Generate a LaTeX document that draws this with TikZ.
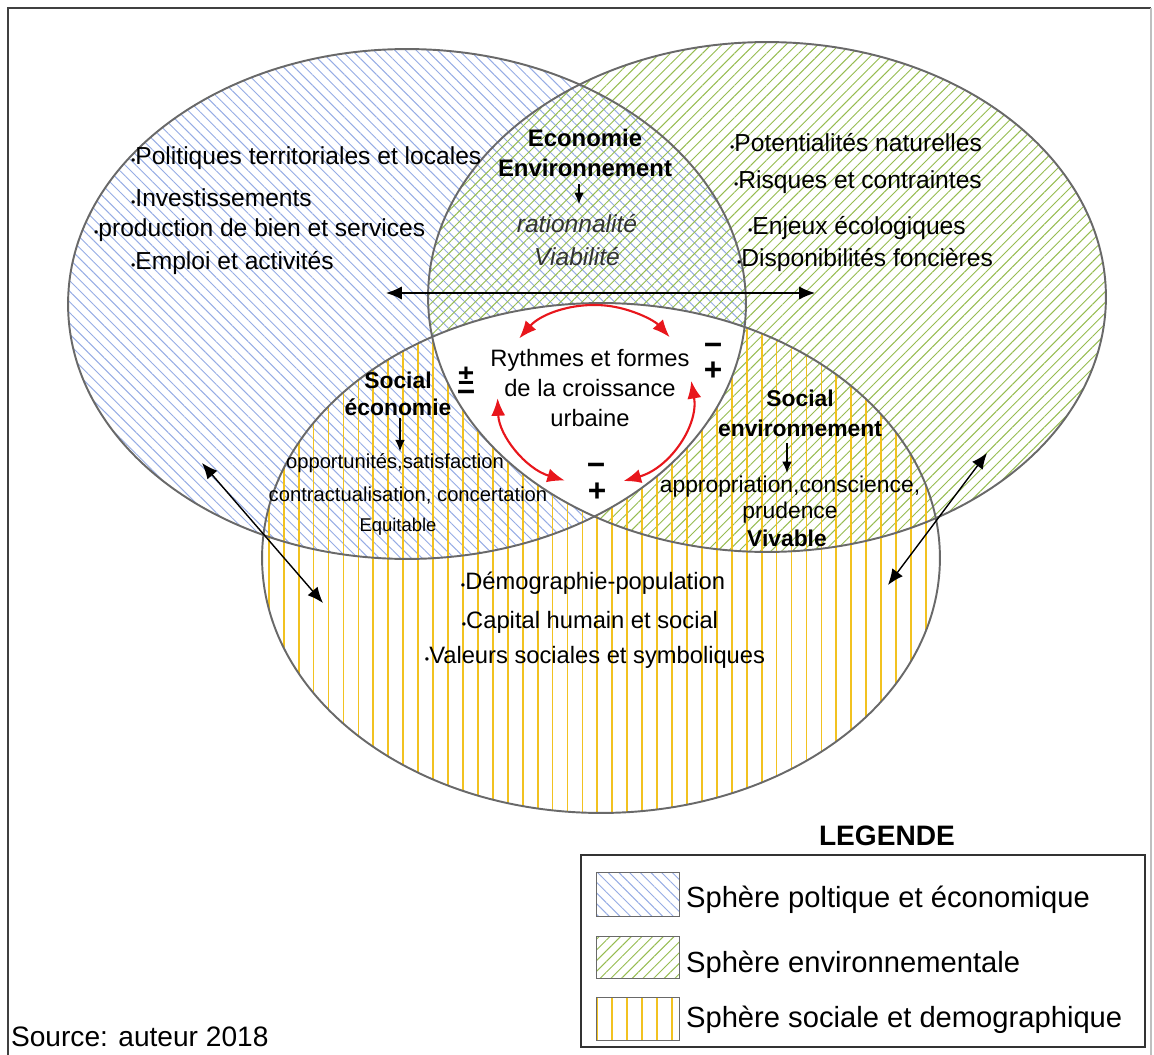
\documentclass[tikz,border=0pt]{standalone}
\usepackage{fontspec}
\setmainfont{Liberation Sans}
\usetikzlibrary{positioning,arrows.meta,calc,patterns.meta}

\definecolor{bluehatch}{RGB}{150,172,228}
\definecolor{greenhatch}{RGB}{150,188,80}
\definecolor{yellowhatch}{RGB}{242,194,32}
\definecolor{rimgray}{RGB}{105,105,105}
\definecolor{cyclered}{RGB}{232,22,28}

\newcommand{\bul}{{\scriptsize\textbullet}}
\newcommand{\sz}[1]{\fontsize{#1}{1.2\dimexpr#1pt\relax}\selectfont}

\begin{document}
\begin{tikzpicture}[
    x=0.02cm, y=-0.02cm,
    txt/.style={font=\sz{14}, inner sep=1pt},
    small/.style={font=\sz{11.5}, inner sep=1pt},
    title/.style={font=\bfseries\fontsize{13.6}{17}\selectfont, align=center, inner sep=1pt},
    quality/.style={font=\itshape\fontsize{14}{19}\selectfont, text=black!80, align=center, inner sep=1pt},
    sign/.style={font=\bfseries\fontsize{18}{12}\selectfont, inner sep=0pt},
    legtext/.style={font=\sz{16.6}, anchor=west, inner sep=1pt},
    bluefill/.style={pattern={Lines[angle=-45,distance=4.3pt,line width=0.55pt]}, pattern color=bluehatch},
    greenfill/.style={pattern={Lines[angle=45,distance=4.3pt,line width=0.55pt]}, pattern color=greenhatch},
    yellowfill/.style={pattern={Lines[angle=90,distance=8.5pt,line width=1pt]}, pattern color=yellowhatch},
    rim/.style={draw=rimgray, line width=1.1pt},
    bigarrow/.style={{Latex[length=9pt,width=7.5pt]}-{Latex[length=9pt,width=7.5pt]}, line width=0.8pt},
    downarrow/.style={-{Latex[length=6.5pt,width=5.5pt]}, line width=0.7pt},
    cycle/.style={{Latex[length=10pt,width=8pt]}-{Latex[length=10pt,width=8pt]}, cyclered, line width=1.2pt}
]
\useasboundingbox (0,0) rectangle (1154,1055);

% Frame
\draw[black!75, line width=1pt] (8,1055) -- (8,8) -- (1151,8);
\draw[black!25, line width=0.8pt] (1151,8) -- (1151,1055);

% Sphere centres
\coordinate (cpol) at (407,304);
\coordinate (cenv) at (767,297);
\coordinate (csoc) at (601,558);

% Hatched spheres
\fill[bluefill] (cpol) ellipse [x radius=6.78cm, y radius=5.1cm];
\fill[greenfill] (cenv) ellipse [x radius=6.78cm, y radius=5.1cm];
\fill[yellowfill] (csoc) ellipse [x radius=6.78cm, y radius=5.1cm];

% Common core stays white
\begin{scope}
  \clip (cpol) ellipse [x radius=6.78cm, y radius=5.1cm];
  \clip (cenv) ellipse [x radius=6.78cm, y radius=5.1cm];
  \fill[white] (csoc) ellipse [x radius=6.78cm, y radius=5.1cm];
\end{scope}

% Outlines
\draw[rim] (cpol) ellipse [x radius=6.78cm, y radius=5.1cm];
\draw[rim] (cenv) ellipse [x radius=6.78cm, y radius=5.1cm];
\draw[rim] (csoc) ellipse [x radius=6.78cm, y radius=5.1cm];

% Political and economic sphere
\node[txt, anchor=west] (pol) at (129,158) {\bul Politiques territoriales et locales};
\node[txt, anchor=west] (inv) at (129,198) {\bul Investissements};
\node[txt, anchor=west] (prod) at (92,230) {\bul production de bien et services};
\node[txt, anchor=west] (emp) at (129,263) {\bul Emploi et activités};

% Environmental sphere
\node[txt, anchor=west] (pot) at (728,143) {\bul Potentialités naturelles};
\node[txt, anchor=west] (risk) at (732,182) {\bul Risques et contraintes};
\node[txt, anchor=west] (enj) at (746,228) {\bul Enjeux écologiques};
\node[txt, anchor=west] (disp) at (735,260) {\bul Disponibilités foncières};

% Social sphere
\node[txt, font=\sz{13.5}] (demo) at (593,583) {\bul Démographie-population};
\node[txt, font=\sz{13.5}] (capi) at (590,622) {\bul Capital humain et social};
\node[txt, font=\sz{13.5}] (val) at (595,657) {\bul Valeurs sociales et symboliques};

% Economie - Environnement
\node[title] (ecoenv) at (585,153) {Economie\\Environnement};
\node[quality] (viab) at (577,240) {rationnalité\\Viabilité};
\draw[downarrow] (579,184) -- (579,204);

% Social - economie
\node[title, font=\bfseries\fontsize{13}{15.5}\selectfont] (soceco) at (398,394) {Social\\économie};
\node[small] (opp) at (395,463) {opportunités,satisfaction};
\node[small] (contr) at (408,495) {contractualisation, concertation};
\node[small, font=\sz{10.5}] (equi) at (398,527) {Equitable};
\draw[downarrow] (soceco.south -| opp.north) ++(5,0) coordinate (se1) -- (se1 |- opp.north);

% Social - environnement
\node[title, font=\bfseries\fontsize{13}{17}\selectfont] (socenv) at (800,413) {Social\\environnement};
\node[txt, font=\sz{13}] (appr) at (790,487) {appropriation,conscience,};
\node[txt, font=\sz{13}] (prud) at (790,513) {prudence};
\node[txt, font=\bfseries\sz{13}] (viva) at (787,538) {Vivable};
\draw[downarrow] (787,443) -- (787,473);

% Core
\node[txt, align=center, font=\fontsize{13.5}{17}\selectfont] (core) at (590,388) {Rythmes et formes\\de la croissance\\urbaine};
\node[sign, font=\bfseries\fontsize{16}{12}\selectfont] (slp) at (466,376) {±};
\node[sign] (slm) at (466,396) {−};
\node[sign] (srm) at (713,349) {−};
\node[sign] (srp) at (713,371) {+};
\node[sign] (sbm) at (596,469) {−};
\node[sign] (sbp) at (597,492) {+};

% Feedback loop
\coordinate (cyc) at (595,395);
\draw[cycle] ($(cyc)+(141:1.95cm and 1.8cm)$) arc[start angle=141, end angle=40, x radius=1.95cm, y radius=1.8cm];
\draw[cycle] ($(cyc)+(182:1.95cm and 1.8cm)$) arc[start angle=182, end angle=252, x radius=1.95cm, y radius=1.8cm];
\draw[cycle] ($(cyc)+(9:1.95cm and 1.8cm)$) arc[start angle=9, end angle=-73, x radius=1.95cm, y radius=1.8cm];

% Interactions between spheres
\coordinate (hl) at (386,293);
\coordinate (hr) at (815,293);
\draw[bigarrow] (hl) -- (hr);
\coordinate (dl1) at (202,463);
\coordinate (dl2) at (323,603);
\draw[bigarrow] (dl1) -- (dl2);
\coordinate (dr1) at (987,453);
\coordinate (dr2) at (888,585);
\draw[bigarrow] (dr1) -- (dr2);

% Legend
\node[font=\bfseries\fontsize{16}{18}\selectfont] (legtitle) at (887,836) {LEGENDE};
\draw[black!80, line width=1pt] (581,855) rectangle (1145,1047);
\draw[bluefill, draw=rimgray] (596,872) rectangle (679,916);
\draw[greenfill, draw=rimgray] (596,936) rectangle (679,978);
\draw[yellowfill, draw=rimgray] (596,997) rectangle (679,1040);
\node[legtext] (legpol) at (684,900) {Sphère poltique et économique};
\node[legtext] (legenv) at (684,965) {Sphère environnementale};
\node[legtext] (legsoc) at (684,1020) {Sphère sociale et demographique};

% Source
\node[legtext, font=\sz{16}] (src) at (9,1037) {Source: auteur 2018};

\end{tikzpicture}
\end{document}
